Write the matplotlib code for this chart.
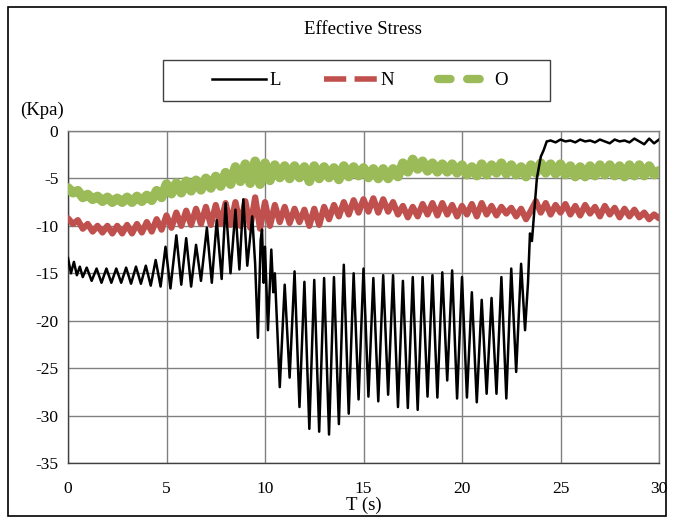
import numpy as np
import matplotlib
matplotlib.use("Agg")
import matplotlib.pyplot as plt
from matplotlib.patches import Rectangle
from matplotlib.lines import Line2D

plt.rcParams['font.family'] = ['Liberation Serif', 'DejaVu Serif']

# ---- data ----
L_t = [0.0, 0.15, 0.3, 0.45, 0.6, 0.75, 0.95, 1.2, 1.45, 1.7, 1.95, 2.2, 2.45, 2.7, 2.95,
       3.2, 3.45, 3.7, 3.95, 4.2, 4.45, 4.7, 4.95, 5.2, 5.5, 5.75, 6.0, 6.25, 6.5, 6.75,
       7.05, 7.3, 7.55, 7.8, 8.0, 8.25, 8.5, 8.7, 8.9, 9.1, 9.35, 9.5, 9.64, 9.78, 9.85,
       9.93, 10.0, 10.15, 10.32, 10.42, 10.5, 10.75, 11.0, 11.25, 11.5, 11.75, 12.0, 12.25,
       12.5, 12.75, 13.0, 13.25, 13.5, 13.75, 14.0, 14.25, 14.5, 14.75, 15.0, 15.25, 15.5,
       15.75, 16.0, 16.25, 16.5, 16.75, 17.0, 17.25, 17.5, 17.75, 18.0, 18.25, 18.5, 18.75,
       19.0, 19.25, 19.5, 19.75, 20.0, 20.25, 20.5, 20.75, 21.0, 21.25, 21.5, 21.75, 22.0,
       22.25, 22.5, 22.75, 23.0, 23.2, 23.35, 23.45, 23.55, 23.65, 23.8, 24.0, 24.15, 24.3,
       24.5, 24.75, 25.0, 25.25, 25.5, 25.75, 26.0, 26.25, 26.5, 26.75, 27.0, 27.25, 27.5,
       27.75, 28.0, 28.25, 28.5, 28.75, 29.0, 29.25, 29.5, 29.75, 30.0]
L_v = [-13.4, -15.0, -13.8, -15.2, -14.3, -15.4, -14.4, -15.8, -14.5, -16.0, -14.5, -16.0,
       -14.5, -16.0, -14.4, -16.1, -14.3, -16.1, -14.2, -16.3, -13.6, -16.4, -12.2, -16.6,
       -11.0, -16.2, -11.3, -16.4, -12.0, -15.8, -10.2, -16.0, -9.4, -15.6, -7.6, -15.0,
       -8.3, -14.6, -7.2, -14.2, -9.0, -14.0, -21.8, -11.5, -10.4, -16.0, -12.2, -21.0,
       -12.5, -17.0, -15.0, -27.0, -16.2, -26.0, -14.8, -29.1, -15.9, -31.4, -15.7, -31.7,
       -15.5, -32.0, -15.4, -30.9, -14.1, -29.8, -15.0, -28.3, -14.5, -28.0, -15.5, -28.5,
       -15.2, -27.8, -15.2, -29.1, -15.8, -29.2, -15.4, -29.4, -15.4, -28.0, -15.2, -28.1,
       -14.9, -26.3, -14.7, -28.2, -15.4, -28.1, -17.0, -28.6, -17.8, -27.7, -17.6, -27.7,
       -15.4, -28.2, -14.5, -25.4, -14.0, -21.0, -16.0, -10.8, -11.6, -9.0, -5.0, -2.7,
       -2.0, -1.1, -1.0, -1.2, -0.9, -1.1, -1.0, -1.2, -0.9, -1.1, -1.0, -1.2, -0.9, -1.1,
       -1.3, -0.9, -1.1, -1.0, -1.2, -0.8, -1.1, -1.4, -0.8, -1.3, -0.9]

t_grid = np.arange(0, 30.001, 0.25)  # sampling times of N and O
N_v = [-9.2, -9.8, -9.4, -10.3, -9.8, -10.6, -10.0, -10.7, -10.0, -10.8, -10.0, -10.8,
       -9.9, -10.8, -9.8, -10.7, -9.6, -10.6, -9.3, -10.4, -8.9, -10.2, -8.6, -10.0,
       -8.4, -9.9, -8.2, -9.8, -8.0, -9.9, -7.8, -9.8, -7.6, -9.9, -7.5, -10.0,
       -7.4, -10.2, -7.0, -10.3, -7.5, -10.0, -7.8, -9.6, -8.0, -9.7, -8.2, -9.6,
       -8.3, -10.0, -8.2, -9.9, -8.0, -9.3, -7.8, -9.0, -7.5, -8.8, -7.3, -8.6,
       -7.2, -8.5, -7.1, -8.6, -7.2, -8.5, -7.5, -8.8, -7.9, -9.1, -8.0, -9.0,
       -7.7, -8.8, -7.6, -8.9, -7.6, -8.8, -7.8, -9.0, -7.9, -8.8, -7.7, -9.0,
       -7.6, -8.8, -7.9, -8.9, -8.0, -8.7, -8.1, -9.0, -8.2, -9.3, -8.4, -7.4,
       -8.6, -7.6, -8.8, -7.8, -8.6, -7.7, -8.8, -7.9, -8.9, -7.8, -8.7, -8.0,
       -9.0, -7.9, -8.8, -8.1, -9.1, -8.2, -9.0, -8.3, -9.1, -8.6, -9.3, -8.8, -9.2]
O_v = [-6.0, -6.5, -6.3, -7.0, -6.7, -7.2, -6.9, -7.4, -7.0, -7.5, -7.1, -7.5,
       -7.0, -7.5, -6.9, -7.4, -6.8, -7.3, -6.3, -7.0, -5.6, -6.6, -5.5, -6.5,
       -5.3, -6.3, -5.2, -6.2, -5.0, -6.0, -4.8, -5.8, -4.4, -5.6, -3.8, -5.3,
       -3.5, -5.5, -3.2, -5.6, -3.4, -5.2, -3.6, -4.9, -3.7, -5.0, -3.7, -4.9,
       -3.8, -5.3, -3.7, -5.0, -3.8, -4.9, -3.9, -5.1, -3.7, -4.8, -3.8, -4.7,
       -3.9, -4.9, -4.0, -5.0, -4.0, -5.0, -4.0, -4.8, -3.4, -4.3, -3.0, -4.0,
       -3.2, -4.2, -3.4, -4.3, -3.5, -4.3, -3.5, -4.4, -3.6, -4.6, -3.8, -4.7,
       -3.5, -4.6, -3.6, -4.4, -3.4, -4.5, -3.6, -4.6, -3.8, -4.8, -3.6, -4.4,
       -3.4, -4.4, -3.5, -4.5, -3.5, -4.6, -3.7, -4.8, -3.8, -4.8, -3.7, -4.7,
       -3.6, -4.6, -3.6, -4.7, -3.7, -4.8, -3.6, -4.7, -3.6, -4.7, -3.7, -4.6, -4.2]

x_ticks = [0, 5, 10, 15, 20, 25, 30]
y_ticks = [0, -5, -10, -15, -20, -25, -30, -35]
series_names = ['L', 'N', 'O']

L_COLOR, N_COLOR, O_COLOR = 'black', '#C0504D', '#9BBB59'

# ---- figure ----
W, H = 673, 517
fig = plt.figure(figsize=(W / 100, H / 100), dpi=100)
ax = fig.add_axes([68 / W, 1 - 463 / H, (659 - 68) / W, (463 - 131) / H])

ax.plot(t_grid, N_v, color=N_COLOR, lw=4.5, solid_capstyle='round',
        solid_joinstyle='round', zorder=3)
ax.plot(t_grid, O_v, color=O_COLOR, lw=7.0, solid_capstyle='round',
        solid_joinstyle='round', zorder=4)
ax.plot(L_t, L_v, color=L_COLOR, lw=1.8, zorder=5)

ax.set_xlim(0, 30)
ax.set_ylim(-35, 0)
ax.set_xticks(x_ticks)
ax.set_yticks(y_ticks)
ax.set_yticklabels([str(v) for v in y_ticks])
ax.grid(True, color='#808080', lw=1.0)
ax.set_axisbelow(True)
for s in ax.spines.values():
    s.set_color('#808080')
    s.set_linewidth(1.0)
ax.spines['left'].set_color('#404040')
ax.spines['bottom'].set_color('#404040')
ax.tick_params(axis='y', length=0, labelsize=12.5, pad=7, colors='black')
ax.tick_params(axis='x', length=0, labelsize=12.5, pad=13, colors='black')

ax.set_xlabel('T (s)', fontsize=13.5, labelpad=0)
fig.text(20 / W, 1 - 110 / H, '(Kpa)', fontsize=13.5, ha='left', va='center')
fig.text(363 / W, 1 - 30 / H, 'Effective Stress', fontsize=13.5, ha='center', va='center')

# legend frame
fig.patches.append(Rectangle((163 / W, 1 - 101 / H), (550 - 163) / W, (101 - 60) / H,
                             transform=fig.transFigure, fill=False, edgecolor='#404040',
                             lw=1.0))
handles = [
    Line2D([], [], color=L_COLOR, lw=1.8),
    Line2D([], [], color=N_COLOR, lw=4.0, linestyle=(0, (4, 1.5))),
    Line2D([], [], color=O_COLOR, lw=6.0, linestyle=(0, (1.5, 2.0)), dash_capstyle='round'),
]
leg = fig.legend(handles=handles, labels=series_names, loc='center', ncol=3,
                 bbox_to_anchor=(360 / W, 1 - 80.5 / H), frameon=False,
                 fontsize=13.5, handlelength=2.9, handletextpad=0.15,
                 columnspacing=2.3, borderaxespad=0)

# outer chart border
fig.patches.append(Rectangle((8 / W, 1 - 516 / H), (666 - 8) / W, (516 - 7) / H,
                             transform=fig.transFigure, fill=False, edgecolor='black',
                             lw=1.2))

fig.savefig('out.png', dpi=100)
